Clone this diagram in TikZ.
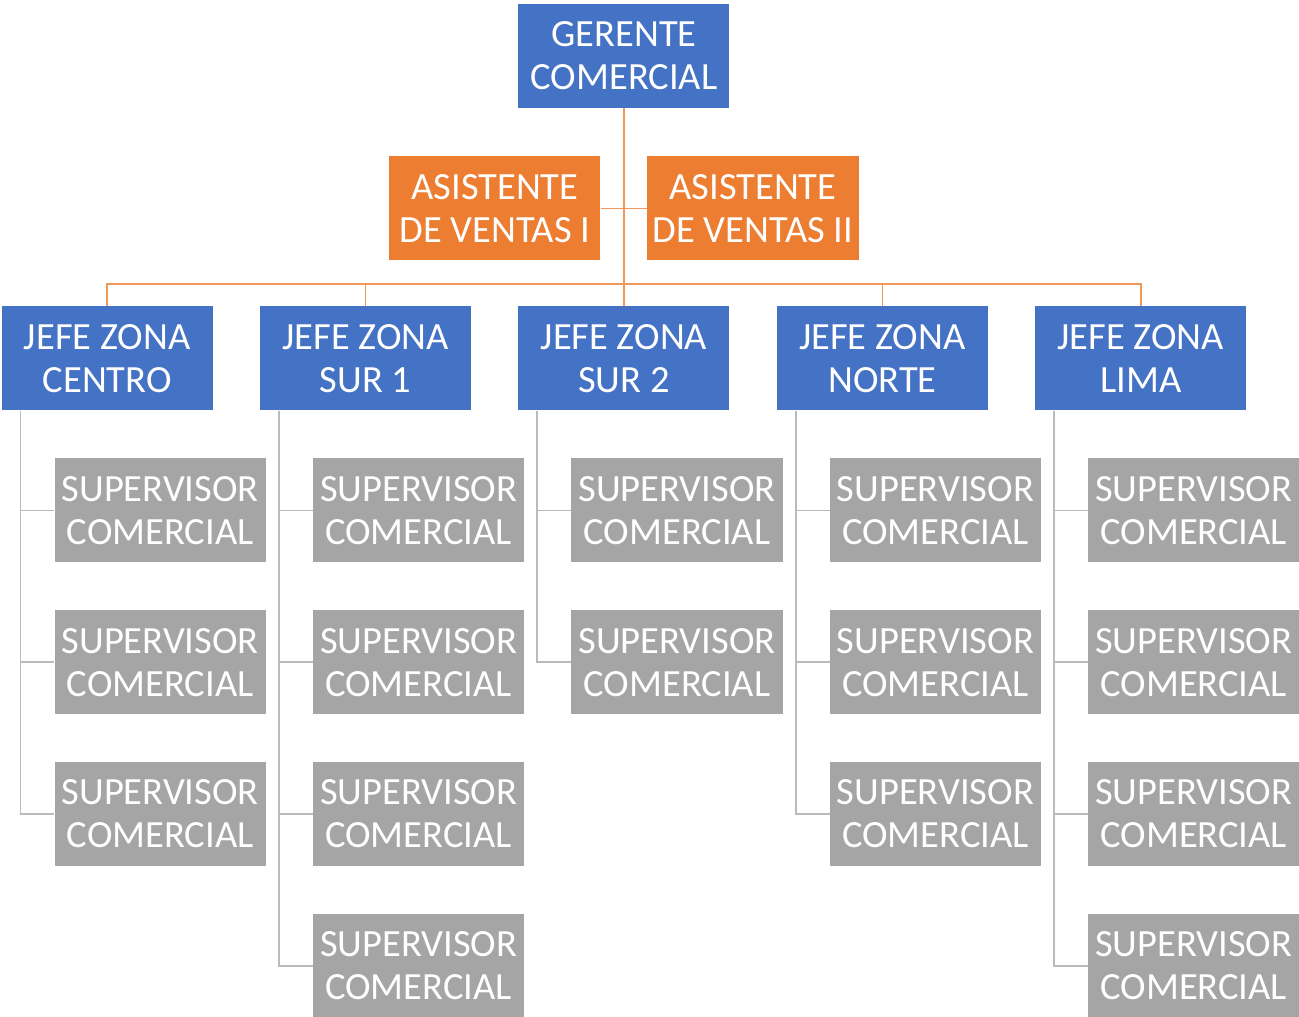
\documentclass[tikz,border=0pt]{standalone}
\usepackage{fontspec}
\setmainfont{Carlito}
\usetikzlibrary{positioning}
\definecolor{azul}{HTML}{4472C4}
\definecolor{naranja}{HTML}{ED7D31}
\definecolor{gris}{HTML}{A5A5A5}

\begin{document}
\begin{tikzpicture}[
    node distance=47.5pt,
    caja/.style={minimum width=211pt, minimum height=104pt, inner sep=0pt,
                 align=center, text=white, font=\fontsize{38.5}{43}\selectfont},
    jefe/.style={caja, fill=azul},
    asis/.style={caja, fill=naranja},
    sup/.style={caja, fill=gris},
    lo/.style={line width=1.6pt, naranja!80},
    lg/.style={line width=1.6pt, gris!75},
]
\useasboundingbox (-624pt,56pt) rectangle (675pt,-961pt);
\node[jefe] (g) {GERENTE\\COMERCIAL};
\node[asis, below=48pt of g, xshift=-129pt] (a1) {ASISTENTE\\DE VENTAS I};
\node[asis, below=48pt of g, xshift=129pt] (a2) {ASISTENTE\\DE VENTAS II};
\node[jefe, below=198pt of g] (j3) {JEFE ZONA\\SUR 2};
\node[jefe, left=47pt of j3] (j2) {JEFE ZONA\\SUR 1};
\node[jefe, left=47pt of j2] (j1) {JEFE ZONA\\CENTRO};
\node[jefe, right=47pt of j3] (j4) {JEFE ZONA\\NORTE};
\node[jefe, right=47pt of j4] (j5) {JEFE ZONA\\LIMA};
% centro
\node[sup, below=of j1, xshift=53pt] (s11) {SUPERVISOR\\COMERCIAL};
\node[sup, below=of s11] (s12) {SUPERVISOR\\COMERCIAL};
\node[sup, below=of s12] (s13) {SUPERVISOR\\COMERCIAL};
% sur 1
\node[sup, below=of j2, xshift=53pt] (s21) {SUPERVISOR\\COMERCIAL};
\node[sup, below=of s21] (s22) {SUPERVISOR\\COMERCIAL};
\node[sup, below=of s22] (s23) {SUPERVISOR\\COMERCIAL};
\node[sup, below=of s23] (s24) {SUPERVISOR\\COMERCIAL};
% sur 2
\node[sup, below=of j3, xshift=53pt] (s31) {SUPERVISOR\\COMERCIAL};
\node[sup, below=of s31] (s32) {SUPERVISOR\\COMERCIAL};
% norte
\node[sup, below=of j4, xshift=53pt] (s41) {SUPERVISOR\\COMERCIAL};
\node[sup, below=of s41] (s42) {SUPERVISOR\\COMERCIAL};
\node[sup, below=of s42] (s43) {SUPERVISOR\\COMERCIAL};
% lima
\node[sup, below=of j5, xshift=53pt] (s51) {SUPERVISOR\\COMERCIAL};
\node[sup, below=of s51] (s52) {SUPERVISOR\\COMERCIAL};
\node[sup, below=of s52] (s53) {SUPERVISOR\\COMERCIAL};
\node[sup, below=of s53] (s54) {SUPERVISOR\\COMERCIAL};
% gerente, asistentes y jefes
\draw[lo] (g.south) -- (j3.north);
\draw[lo] (a1.east) -- (a2.west);
\draw[lo] (j1.north) -- ++(0,22pt) -| (j5.north);
\draw[lo] (j2.north) -- ++(0,22pt);
\draw[lo] (j4.north) -- ++(0,22pt);
% jefes a supervisores
\foreach \k in {1,2,3} \draw[lg] ([xshift=19pt]j1.south west) |- (s1\k.west);
\foreach \k in {1,2,3,4} \draw[lg] ([xshift=19pt]j2.south west) |- (s2\k.west);
\foreach \k in {1,2} \draw[lg] ([xshift=19pt]j3.south west) |- (s3\k.west);
\foreach \k in {1,2,3} \draw[lg] ([xshift=19pt]j4.south west) |- (s4\k.west);
\foreach \k in {1,2,3,4} \draw[lg] ([xshift=19pt]j5.south west) |- (s5\k.west);
\end{tikzpicture}
\end{document}
